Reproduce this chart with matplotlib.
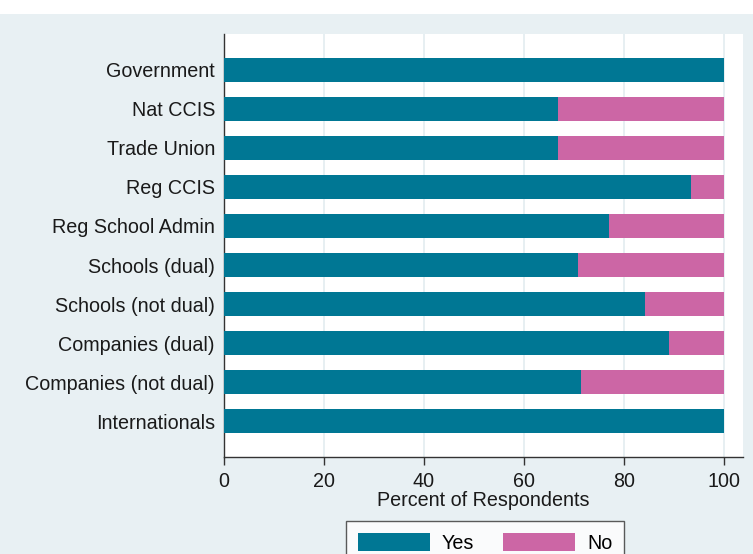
import matplotlib
matplotlib.use("Agg")
import matplotlib.pyplot as plt
from matplotlib.patches import Rectangle
import numpy as np

categories = ["Government", "Nat CCIS", "Trade Union", "Reg CCIS", "Reg School Admin",
              "Schools (dual)", "Schools (not dual)", "Companies (dual)",
              "Companies (not dual)", "Internationals"]
yes_vals = [100, 66.7, 66.7, 93.3, 76.9, 70.8, 84.2, 88.9, 71.4, 100]
no_vals = [0, 33.3, 33.3, 6.7, 23.1, 29.2, 15.8, 11.1, 28.6, 0]
xticks = [0, 20, 40, 60, 80, 100]

plt.rcParams['font.family'] = ['Liberation Sans', 'DejaVu Sans']

teal = "#007794"
pink = "#cc66a5"
bg = "#e8f0f3"
fs = 14.2

fig = plt.figure(figsize=(7.53, 5.54), dpi=100)
fig.patch.set_facecolor(bg)
fig.patches.append(Rectangle((0, 1 - 14/554), 1, 14/554, transform=fig.transFigure,
                             facecolor="white", edgecolor="none", zorder=0))

ax = fig.add_axes([224/753, 1 - 457/554, (743-224)/753, (457-34)/554])
ax.set_facecolor("white")

y = np.arange(len(categories))
ax.barh(y, yes_vals, height=0.6, color=teal, label="Yes", zorder=3)
ax.barh(y, no_vals, left=yes_vals, height=0.6, color=pink, label="No", zorder=3)

ax.set_ylim(len(categories) - 1 + 0.92, -0.92)
ax.set_xlim(0, 103.8)
ax.set_yticks(y)
ax.set_yticklabels(categories, fontsize=fs, color="#1a1a1a")
ax.tick_params(axis='y', length=0, pad=6.5)
ax.set_xticks(xticks)
ax.set_xticklabels([str(t) for t in xticks], fontsize=fs, color="#1a1a1a")
ax.tick_params(axis='x', length=6, width=1, color="#333333", pad=5)
ax.set_xlabel("Percent of Respondents", fontsize=fs, color="#1a1a1a", labelpad=0)
ax.grid(axis='x', color="#e3ecf0", linewidth=1.2, zorder=0)
ax.set_axisbelow(True)
for s in ["top", "right"]:
    ax.spines[s].set_visible(False)
for s in ["left", "bottom"]:
    ax.spines[s].set_color("#333333")
    ax.spines[s].set_linewidth(1)

leg = fig.legend(loc="upper center", bbox_to_anchor=(485/753, 1 - 521/554), ncol=2,
                 fontsize=fs, frameon=True, fancybox=False, edgecolor="#333333",
                 handlelength=3.65, handleheight=1.05, columnspacing=1.5, handletextpad=0.6,
                 borderpad=0.6, borderaxespad=0)
leg.get_frame().set_linewidth(1)
leg.get_frame().set_facecolor("white")

fig.savefig("out.png", dpi=100, facecolor=fig.get_facecolor())
